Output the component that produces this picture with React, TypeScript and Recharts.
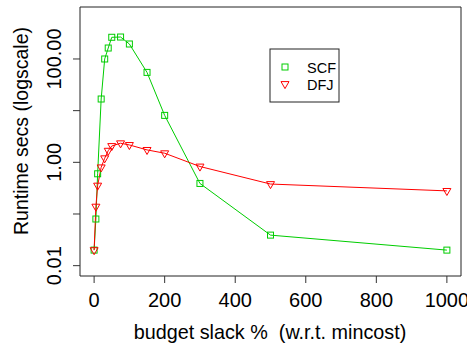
import React from "react";
import { LineChart, Line, XAxis, YAxis, ReferenceArea, Customized } from "recharts";

// budget slack % values (x) and runtimes in seconds
const slack = [0, 5, 10, 20, 30, 40, 50, 75, 100, 150, 200, 300, 500, 1000];
const scf = [0.02, 0.08, 0.6, 16.8, 100, 163, 263, 266, 195, 55, 8.1, 0.39, 0.039, 0.02];
const dfj = [0.02, 0.139, 0.355, 0.8, 1.2, 1.68, 2.07, 2.34, 2.17, 1.74, 1.5, 0.83, 0.38, 0.28];

const seriesNames = ["SCF", "DFJ"];
const seriesColors = ["#00cd00", "#ff0000"];

const xTicks = [0, 200, 400, 600, 800, 1000];
const yTicks = [0.01, 0.1, 1, 10, 100];
const yTickLabels: Record<string, string> = { "0.01": "0.01", "1": "1.00", "100": "100.00" };

const xTitle = "budget slack %  (w.r.t. mincost)";
const yTitle = "Runtime secs (logscale)";

const data = slack.map((s, i) => ({ slack: s, SCF: scf[i], DFJ: dfj[i] }));

const FONT = "'Liberation Sans', Arial, Helvetica, sans-serif";
const X_DOMAIN: [number, number] = [-40, 1040];
const Y_DOMAIN: [number, number] = [Math.pow(10, -2.2), Math.pow(10, 3.006)];

const Square = ({ cx, cy, color }: any) => (
  <rect x={cx - 3} y={cy - 3} width={6} height={6} fill="none" stroke={color} strokeWidth={1} />
);

const Triangle = ({ cx, cy, color }: any) => (
  <polygon
    points={`${cx - 4},${cy - 2.4} ${cx + 4},${cy - 2.4} ${cx},${cy + 4.6}`}
    fill="none"
    stroke={color}
    strokeWidth={1}
  />
);

const XTick = ({ x, y, payload }: any) => (
  <text x={x} y={y + 24} textAnchor="middle" fontSize={20} fontFamily={FONT} fill="#000">
    {payload.value}
  </text>
);

const YTick = ({ x, y, payload }: any) => {
  const label = yTickLabels[String(payload.value)];
  if (!label) return <g />;
  return (
    <text
      x={x - 12}
      y={y}
      transform={`rotate(-90, ${x - 12}, ${y})`}
      textAnchor="middle"
      fontSize={20}
      fontFamily={FONT}
      fill="#000"
    >
      {label}
    </text>
  );
};

const Titles = () => (
  <g fontFamily={FONT} fill="#000">
    <text x={270} y={339} textAnchor="middle" fontSize={19.8} xmlSpace="preserve" style={{ whiteSpace: "pre" }}>
      {xTitle}
    </text>
    <text x={27.5} y={131} transform="rotate(-90, 27.5, 131)" textAnchor="middle" fontSize={19.5}>
      {yTitle}
    </text>
  </g>
);

const LegendBox = () => (
  <g fontFamily={FONT}>
    <rect x={270} y={49} width={69} height={53} fill="#fff" stroke="#222" />
    <Square cx={285} cy={67} color={seriesColors[0]} />
    <text x={307} y={72.5} fontSize={14.5} fill="#000">
      {seriesNames[0]}
    </text>
    <Triangle cx={285} cy={84} color={seriesColors[1]} />
    <text x={307} y={90} fontSize={14.5} fill="#000">
      {seriesNames[1]}
    </text>
  </g>
);

export default function App() {
  return (
    <div style={{ position: "absolute", left: 0, top: 0, background: "#fff" }}>
      <LineChart width={467} height={346} data={data} margin={{ top: 7, right: 6, bottom: 0, left: 0 }}>
        <XAxis
          dataKey="slack"
          type="number"
          domain={X_DOMAIN}
          ticks={xTicks}
          interval={0}
          allowDataOverflow
          height={70}
          axisLine={false}
          tickLine={{ stroke: "#333" }}
          tickSize={7}
          tickMargin={0}
          tick={<XTick />}
        />
        <YAxis
          type="number"
          scale="log"
          domain={Y_DOMAIN}
          ticks={yTicks}
          interval={0}
          allowDataOverflow
          width={80}
          axisLine={false}
          tickLine={{ stroke: "#333" }}
          tickSize={7}
          tickMargin={0}
          tick={<YTick />}
        />
        <ReferenceArea
          x1={X_DOMAIN[0]}
          x2={X_DOMAIN[1]}
          y1={Y_DOMAIN[0]}
          y2={Y_DOMAIN[1]}
          fill="none"
          stroke="#222"
          strokeWidth={1}
          ifOverflow="visible"
        />
        <Line
          dataKey="SCF"
          type="linear"
          stroke={seriesColors[0]}
          strokeWidth={1}
          isAnimationActive={false}
          dot={(p: any) => <Square key={`s${p.index}`} cx={p.cx} cy={p.cy} color={seriesColors[0]} />}
        />
        <Line
          dataKey="DFJ"
          type="linear"
          stroke={seriesColors[1]}
          strokeWidth={1}
          isAnimationActive={false}
          dot={(p: any) => <Triangle key={`d${p.index}`} cx={p.cx} cy={p.cy} color={seriesColors[1]} />}
        />
        <Customized component={LegendBox} />
        <Customized component={Titles} />
      </LineChart>
    </div>
  );
}
